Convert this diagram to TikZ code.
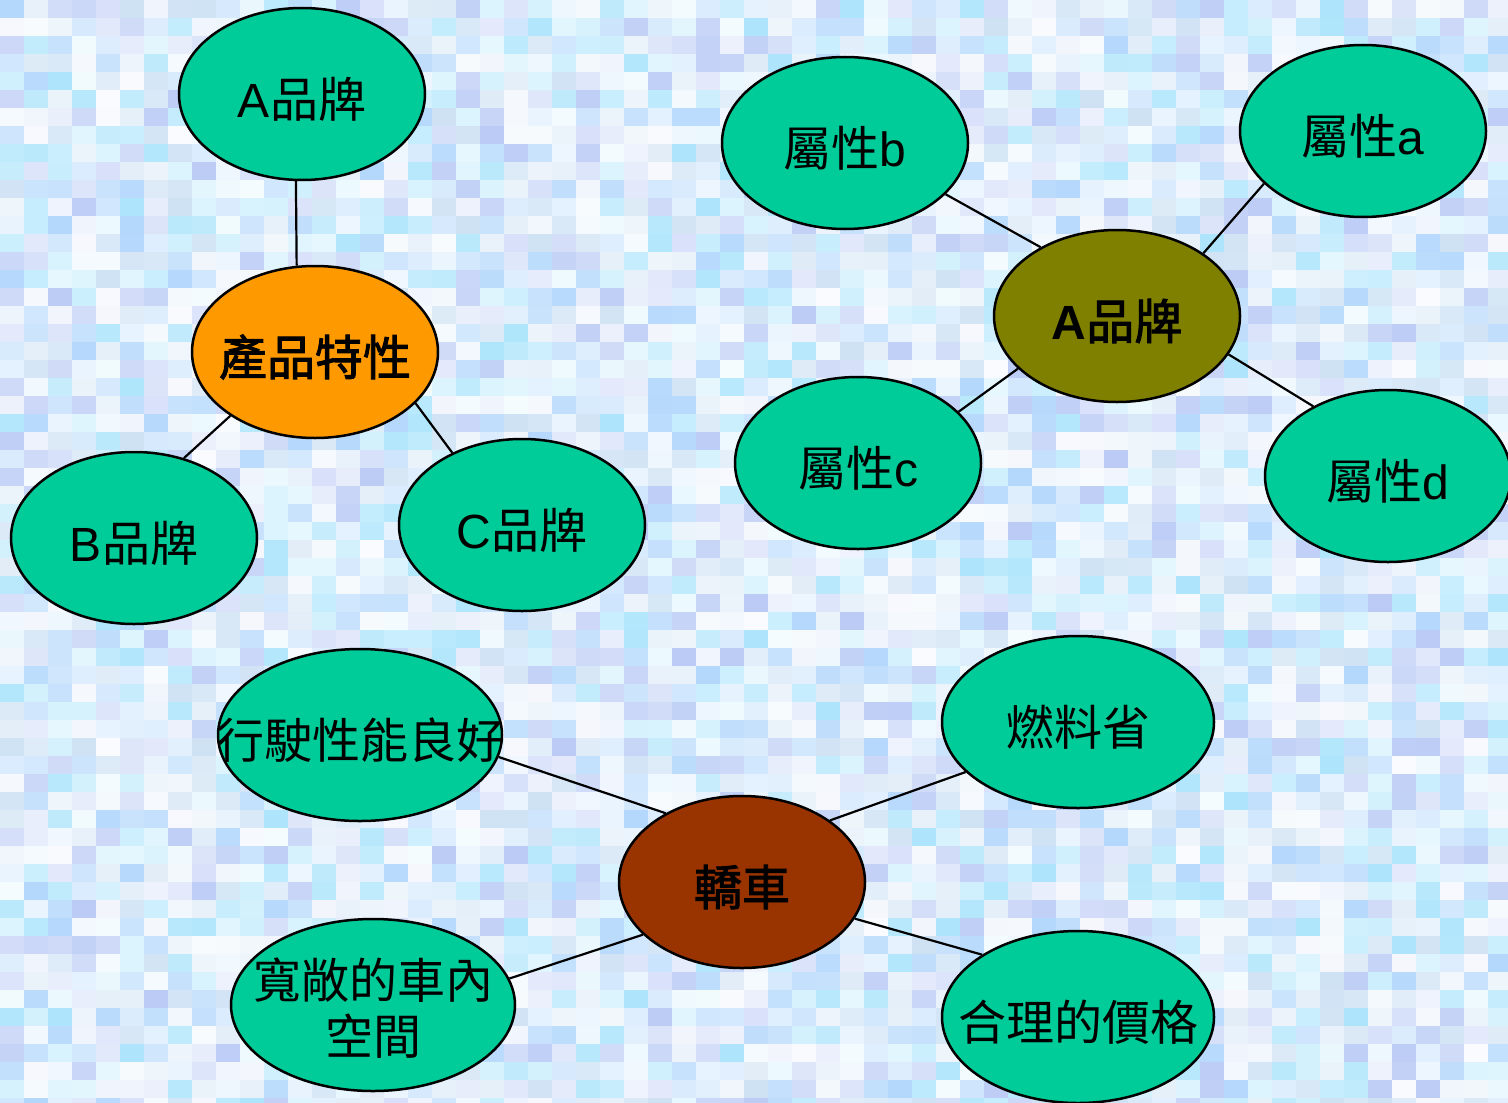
\documentclass[tikz,border=0pt]{standalone}
\usepackage{fontspec}
\setmainfont{Liberation Sans}
\newfontfamily\cjk[AutoFakeBold=2]{Noto Sans CJK TC}
\usetikzlibrary{shapes.geometric}
\newcommand\zh[1]{{\cjk #1}}
\newcommand\lbl[2][-2.5pt]{\makebox[0pt]{\raisebox{#1}[\height][\depth]{#2}}}
\definecolor{nodegreen}{RGB}{0,204,153}
\definecolor{nodeorange}{RGB}{255,153,0}
\definecolor{nodeolive}{RGB}{128,128,0}
\definecolor{nodebrown}{RGB}{153,51,0}
\definecolor{bg0}{RGB}{140,195,250}
\definecolor{bg1}{RGB}{130,215,250}
\definecolor{bg2}{RGB}{150,175,240}
\definecolor{bg3}{RGB}{180,210,238}
\tikzset{
  bubble/.style={ellipse, draw=black, line width=1.25pt, fill=nodegreen,
    inner sep=0pt, minimum width=123pt, minimum height=86pt,
    font=\fontsize{24}{29}\selectfont},
  widebubble/.style={bubble, minimum width=142pt},
  midbubble/.style={bubble, minimum width=136pt},
  hub/.style={bubble, font=\fontsize{24}{29}\selectfont\bfseries},
  link/.style={draw=black, line width=1.1pt}
}
\begin{document}
\begin{tikzpicture}[x=0.5pt, y=-0.5pt]
\useasboundingbox (0,0) rectangle (1508,1102);
% mosaic background
\pgfmathsetseed{12}
\foreach \i in {0,...,62}{
  \foreach \j in {0,...,61}{
    \pgfmathtruncatemacro\h{random(0,3)}
    \pgfmathtruncatemacro\p{random(8,65)}
    \fill[bg\h!\p!white] (\i*24,\j*18) rectangle ++(24,18);
  }
}
% group 1
\node[bubble] (ta) at (302,94) {\lbl{A\zh{品牌}}};
\node[hub, fill=nodeorange] (cp) at (315,352) {\lbl{\zh{產品特性}}};
\node[bubble] (tb) at (134,538) {\lbl{B\zh{品牌}}};
\node[bubble] (tc) at (522,525) {\lbl{C\zh{品牌}}};
% group 2
\node[bubble] (pb) at (845,143) {\lbl{\zh{屬性}b}};
\node[bubble] (pa) at (1363,131) {\lbl{\zh{屬性}a}};
\node[hub, fill=nodeolive] (ab) at (1117,316) {\lbl{A\zh{品牌}}};
\node[bubble] (pc) at (858,463) {\lbl{\zh{屬性}c}};
\node[bubble] (pd) at (1388,476) {\lbl{\zh{屬性}d}};
% group 3
\node[widebubble] (dr) at (360,735) {\lbl{\zh{行駛性能良好}}};
\node[midbubble] (fu) at (1078,722) {\lbl{\zh{燃料省}}};
\node[hub, fill=nodebrown] (car) at (742,882) {\lbl{\zh{轎車}}};
\node[widebubble] (sp) at (373,1005) {\lbl[-5pt]{\begin{tabular}{@{}c@{}}\zh{寬敞的車內}\\[-1pt]\zh{空間}\end{tabular}}};
\node[midbubble] (pr) at (1078,1017) {\lbl{\zh{合理的價格}}};
% connectors
\draw[link] (ta.-94) -- (cp.102.6);
\draw[link] (cp.-143) -- (tb.58.8);
\draw[link] (cp.-27.5) -- (tc.134.2);
\draw[link] (pb.-27) -- (ab.138.9);
\draw[link] (pa.-152.5) -- (ab.36.7);
\draw[link] (pc.27) -- (ab.-152.3);
\draw[link] (pd.137.6) -- (ab.-19.4);
\draw[link] (dr.-9.9) -- (car.138.9);
\draw[link] (fu.-156.2) -- (car.35.8);
\draw[link] (sp.11.1) -- (car.-152.7);
\draw[link] (pr.147.8) -- (car.-18.6);
\end{tikzpicture}
\end{document}
